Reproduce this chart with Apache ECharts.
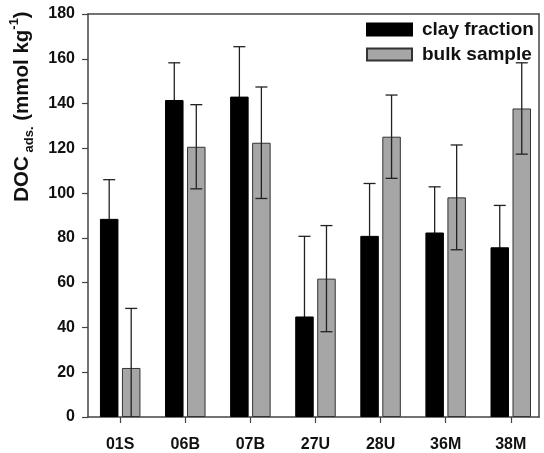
<!DOCTYPE html>
<html>
<head>
<meta charset="utf-8">
<title>DOC adsorption</title>
<script src="https://cdn.jsdelivr.net/npm/echarts@6/dist/echarts.min.js"></script>
<style>
  html, body { margin: 0; padding: 0; background: #fff; }
  #chart { width: 544px; height: 453px; }
</style>
</head>
<body>
<div id="chart"></div>
<script>
// Sample sites along the x axis
const categories = ['01S', '06B', '07B', '27U', '28U', '36M', '38M'];

// Adsorbed DOC (mmol kg-1), mean and standard deviation
const clayMean = [88.5, 141.6, 143.1, 44.9, 80.9, 82.4, 75.8];
const claySD   = [17.5, 16.6, 22.3, 35.8, 23.4, 20.4, 18.7];
const bulkMean = [21.9, 120.7, 122.5, 61.8, 125.2, 98.1, 137.8];
const bulkSD   = [26.6, 18.8, 24.9, 23.7, 18.6, 23.4, 20.4];

// Value axis range and step
const yMin = 0;
const yMax = 180;
const yStep = 20;

const FONT = "'Liberation Sans', Arial, Helvetica, sans-serif";
const AXIS_COLOR = '#444';
const BAR_WIDTH = 18.5;
const BAR_GAP_PX = 3.5;
const CAP_HALF = 6;

const idx = categories.map((_, i) => i);

// Error whiskers, drawn at the centre of each bar of a pair (side = -1 left, +1 right)
function errorSeries(name, means, sds, side, z) {
  return {
    type: 'custom',
    name: name + ' error',
    z: z,
    silent: true,
    data: means.map((m, i) => [i, m, sds[i]]),
    renderItem: function (params, api) {
      const x = api.value(0);
      const m = api.value(1);
      const sd = api.value(2);
      const dx = side * (BAR_WIDTH + BAR_GAP_PX) / 2;
      const top = api.coord([x, m + sd]);
      const lowVal = m - sd;
      const clipped = lowVal < yMin;
      const bot = api.coord([x, clipped ? yMin : lowVal]);
      const cx = top[0] + dx;
      const style = { stroke: '#222', lineWidth: 1.3 };
      const children = [
        { type: 'line', shape: { x1: cx, y1: top[1], x2: cx, y2: bot[1] }, style: style },
        { type: 'line', shape: { x1: cx - CAP_HALF, y1: top[1], x2: cx + CAP_HALF, y2: top[1] }, style: style }
      ];
      if (!clipped) {
        children.push({ type: 'line', shape: { x1: cx - CAP_HALF, y1: bot[1], x2: cx + CAP_HALF, y2: bot[1] }, style: style });
      }
      return { type: 'group', children: children };
    }
  };
}

const chart = echarts.init(document.getElementById('chart'), null, { renderer: 'canvas' });

const xMin = -0.4947;
const xMax = 6.434;

chart.setOption({
  animation: false,
  backgroundColor: '#fff',
  textStyle: { fontFamily: FONT },
  grid: { left: 81, right: 5, top: 14, bottom: 35.5, containLabel: false },
  legend: {
    orient: 'vertical',
    left: 366,
    top: 20,
    padding: 0,
    itemWidth: 45,
    itemHeight: 12,
    itemGap: 6,
    icon: 'rect',
    data: ['clay fraction', 'bulk sample'],
    textStyle: { fontFamily: FONT, fontWeight: 'bold', fontSize: 19, color: '#111', padding: [0, 0, 0, 5] }
  },
  xAxis: [
    {
      type: 'value',
      min: xMin,
      max: xMax,
      splitLine: { show: false },
      axisLine: { show: true, onZero: false, lineStyle: { color: AXIS_COLOR, width: 1.5 } },
      axisTick: { show: true, length: 6, customValues: idx, lineStyle: { color: AXIS_COLOR, width: 1.2 } },
      axisLabel: {
        customValues: idx,
        margin: 20,
        formatter: v => categories[Math.round(v)],
        fontFamily: FONT, fontWeight: 'bold', fontSize: 16, color: '#111'
      }
    },
    {
      type: 'value',
      position: 'top',
      min: xMin,
      max: xMax,
      splitLine: { show: false },
      axisLine: { show: true, onZero: false, lineStyle: { color: AXIS_COLOR, width: 1.5 } },
      axisTick: { show: false },
      axisLabel: { show: false }
    }
  ],
  yAxis: [
    {
      type: 'value',
      min: yMin,
      max: yMax,
      interval: yStep,
      splitLine: { show: false },
      axisLine: { show: true, onZero: false, lineStyle: { color: AXIS_COLOR, width: 1.5 } },
      axisTick: { show: true, length: 6, lineStyle: { color: AXIS_COLOR, width: 1.2 } },
      axisLabel: { margin: 13, fontFamily: FONT, fontWeight: 'bold', fontSize: 16, color: '#111' },
      name: '{m|DOC}{s| ads.}{m| (mmol kg}{p|-1}{m|)}',
      nameLocation: 'middle',
      nameRotate: 90,
      nameGap: 52,
      nameTextStyle: {
        padding: [0, 0, 0, 218],
        rich: {
          m: { fontFamily: FONT, fontWeight: 'bold', fontSize: 20.5, color: '#111', lineHeight: 28, verticalAlign: 'middle' },
          s: { fontFamily: FONT, fontWeight: 'bold', fontSize: 13, color: '#111', lineHeight: 28, verticalAlign: 'bottom' },
          p: { fontFamily: FONT, fontWeight: 'bold', fontSize: 13, color: '#111', lineHeight: 28, verticalAlign: 'top' }
        }
      }
    },
    {
      type: 'value',
      position: 'right',
      min: yMin,
      max: yMax,
      interval: yStep,
      splitLine: { show: false },
      axisLine: { show: true, onZero: false, lineStyle: { color: AXIS_COLOR, width: 1.5 } },
      axisTick: { show: false },
      axisLabel: { show: false }
    }
  ],
  series: [
    {
      type: 'bar',
      name: 'clay fraction',
      z: 2,
      barWidth: BAR_WIDTH,
      barGap: (BAR_GAP_PX / BAR_WIDTH * 100) + '%',
      data: clayMean.map((v, i) => [i, v]),
      itemStyle: { color: '#000', borderColor: '#000', borderWidth: 1 }
    },
    {
      type: 'bar',
      name: 'bulk sample',
      z: 2,
      barWidth: BAR_WIDTH,
      barGap: (BAR_GAP_PX / BAR_WIDTH * 100) + '%',
      data: bulkMean.map((v, i) => [i, v]),
      itemStyle: { color: '#a6a6a6', borderColor: '#333', borderWidth: 1 }
    },
    // clay whiskers sit behind the black bars, bulk whiskers in front of the grey bars
    errorSeries('clay fraction', clayMean, claySD, -1, 1),
    errorSeries('bulk sample', bulkMean, bulkSD, 1, 5)
  ]
});
</script>
</body>
</html>
